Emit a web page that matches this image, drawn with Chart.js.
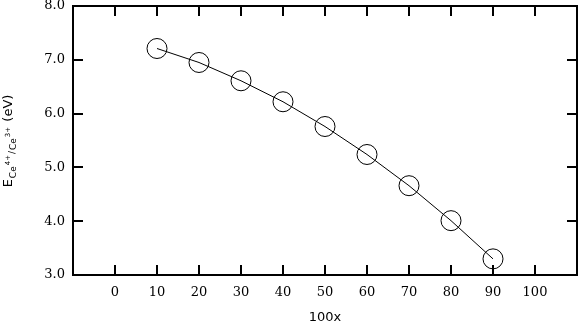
<!DOCTYPE html>
<html>
<head>
<meta charset="utf-8">
<script src="https://cdn.jsdelivr.net/npm/chart.js@4/dist/chart.umd.min.js"></script>
<style>
  html, body { margin: 0; padding: 0; background: #fff; }
  #wrap { width: 578px; height: 325px; position: relative; }
</style>
</head>
<body>
<div id="wrap"><canvas id="chart"></canvas></div>
<script>
const xValues = [10, 20, 30, 40, 50, 60, 70, 80, 90];
const energies = [7.21, 6.95, 6.61, 6.22, 5.76, 5.24, 4.66, 4.01, 3.30];
const xTicks = [0, 10, 20, 30, 40, 50, 60, 70, 80, 90, 100];
const yTicks = [3, 4, 5, 6, 7, 8];

const serif = '"DejaVu Serif", "Liberation Serif", serif';
const sans = '"DejaVu Sans", "Liberation Sans", sans-serif';

// box frame + inward ticks on all four sides
const frame = {
  id: 'frame',
  afterDraw(chart) {
    const { ctx, chartArea: a, scales: { x, y } } = chart;
    ctx.save();
    ctx.strokeStyle = '#000';
    ctx.lineWidth = 2;
    ctx.strokeRect(a.left, a.top, a.right - a.left, a.bottom - a.top);
    const len = 10;
    ctx.beginPath();
    xTicks.forEach(v => {
      const px = Math.round(x.getPixelForValue(v));
      ctx.moveTo(px, a.bottom); ctx.lineTo(px, a.bottom - len);
      ctx.moveTo(px, a.top); ctx.lineTo(px, a.top + len);
    });
    yTicks.forEach(v => {
      const py = Math.round(y.getPixelForValue(v));
      ctx.moveTo(a.left, py); ctx.lineTo(a.left + len, py);
      ctx.moveTo(a.right, py); ctx.lineTo(a.right - len, py);
    });
    ctx.stroke();

    // y title with sub/superscripts, rotated
    const parts = [
      { t: 'E', size: 13, dy: 0 },
      { t: 'Ce', size: 9, dy: 4 },
      { t: '4+', size: 7, dy: -2 },
      { t: '/', size: 9, dy: 3 },
      { t: 'Ce', size: 9, dy: 4 },
      { t: '3+', size: 7, dy: -2 },
      { t: ' (eV)', size: 13, dy: 0 }
    ];
    let total = 0;
    parts.forEach(p => {
      ctx.font = `${p.size}px ${sans}`;
      p.w = ctx.measureText(p.t).width + 1;
      total += p.w;
    });
    ctx.translate(12, (a.top + a.bottom) / 2);
    ctx.rotate(-Math.PI / 2);
    ctx.fillStyle = '#000';
    ctx.textBaseline = 'alphabetic';
    let cx = -total / 2;
    parts.forEach(p => {
      ctx.font = `${p.size}px ${sans}`;
      ctx.fillText(p.t, cx, p.dy);
      cx += p.w;
    });
    ctx.restore();
  }
};

new Chart(document.getElementById('chart'), {
  type: 'scatter',
  data: {
    datasets: [{
      data: xValues.map((v, i) => ({ x: v, y: energies[i] })),
      showLine: true,
      borderColor: '#000',
      borderWidth: 1,
      tension: 0,
      pointStyle: 'circle',
      pointRadius: 10,
      pointBorderWidth: 1,
      pointBorderColor: '#000',
      pointBackgroundColor: 'rgba(0,0,0,0)'
    }]
  },
  options: {
    responsive: true,
    maintainAspectRatio: false,
    animation: false,
    devicePixelRatio: 1,
    layout: { autoPadding: false, padding: { top: 6, right: 1, left: 0, bottom: 0 } },
    plugins: { legend: { display: false }, tooltip: { enabled: false } },
    scales: {
      x: {
        type: 'linear',
        min: -10,
        max: 110,
        afterBuildTicks: s => { s.ticks = xTicks.map(v => ({ value: v })); },
        afterFit: s => { s.height = 50; s.paddingLeft = 0; s.paddingRight = 0; },
        grid: { display: false, drawTicks: false },
        border: { display: false },
        ticks: { color: '#000', padding: 10, font: { family: serif, size: 13 }, callback: v => String(v) },
        title: { display: true, text: '100x', color: '#000', font: { family: sans, size: 13 }, padding: { top: 0, bottom: 0 } }
      },
      y: {
        min: 3,
        max: 8,
        afterBuildTicks: s => { s.ticks = yTicks.map(v => ({ value: v })); },
        afterFit: s => { s.width = 73; s.paddingTop = 0; s.paddingBottom = 0; },
        grid: { display: false, drawTicks: false },
        border: { display: false },
        ticks: { color: '#000', padding: 8, font: { family: serif, size: 13 }, callback: v => v.toFixed(1) }
      }
    }
  },
  plugins: [frame]
});
</script>
</body>
</html>
